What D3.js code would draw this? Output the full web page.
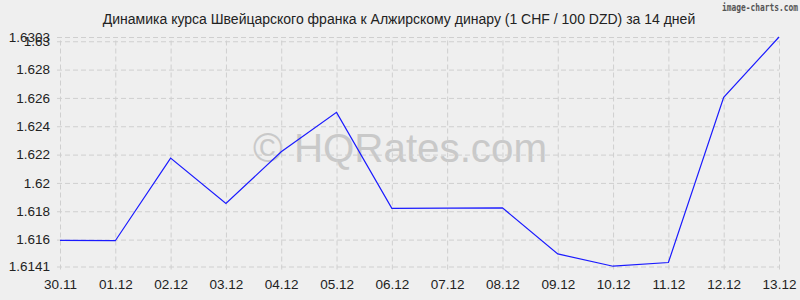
<!DOCTYPE html>
<html><head><meta charset="utf-8">
<script src="https://cdn.jsdelivr.net/npm/d3@7"></script>
<style>body{margin:0;background:#efefef;}svg{display:block;}</style>
</head><body><svg id="c" width="800" height="300"></svg>
<script>
const dates = ["30.11","01.12","02.12","03.12","04.12","05.12","06.12","07.12","08.12","09.12","10.12","11.12","12.12","13.12"];
const values = [1.61594,1.61592,1.62175,1.61855,1.6222,1.62498,1.6182,1.61822,1.61824,1.61499,1.61412,1.61438,1.62604,1.6303];
const yTicks = [1.6141,1.616,1.618,1.62,1.622,1.624,1.626,1.628,1.63,1.6303];
const yMin = 1.6141, yMax = 1.6303;
const title = "Динамика курса Швейцарского франка к Алжирскому динару (1 CHF / 100 DZD) за 14 дней";

const svg = d3.select("#c");
const L = 60, R = 779, T = 37, B = 266.5;
svg.append("rect").attr("width",800).attr("height",300).attr("fill","#efefef");
const x = d3.scalePoint().domain(dates).range([L,R]);
const y = d3.scaleLinear().domain([yMin,yMax]).range([B,T]);

// watermark
svg.append("text").attr("x",400).attr("y",162).attr("text-anchor","middle")
  .attr("font-family","Liberation Sans, Arial, sans-serif").attr("font-size",40)
  .attr("fill","#c9c9c9").attr("textLength",294).attr("lengthAdjust","spacingAndGlyphs")
  .text("© HQRates.com");

// grid
const gx = svg.append("g").attr("transform",`translate(0,${B})`)
  .call(d3.axisBottom(x).tickSize(-(B-T)-0).tickSizeOuter(0).tickPadding(10));
gx.select(".domain").remove();
gx.selectAll(".tick line").attr("stroke","#cfcfcf").attr("stroke-dasharray","5,3").attr("y2",-(B-T)).attr("y1",3);
gx.selectAll(".tick text").attr("font-family","Liberation Sans, Arial, sans-serif").attr("font-size",13.5).attr("fill","#222").attr("dy","0.9em");

const gy = svg.append("g").attr("transform",`translate(${L},0)`)
  .call(d3.axisLeft(y).tickValues(yTicks).tickFormat(d=>String(+d.toFixed(4))).tickSize(-(R-L)).tickSizeOuter(0).tickPadding(10));
gy.select(".domain").remove();
gy.selectAll(".tick line").attr("stroke","#cfcfcf").attr("stroke-dasharray","5,3").attr("x1",-3);
gy.selectAll(".tick text").attr("font-family","Liberation Sans, Arial, sans-serif").attr("font-size",13.5).attr("fill","#222");

// line
svg.append("path").datum(values.map((v,i)=>[dates[i],v]))
  .attr("fill","none").attr("stroke","#1a1aff").attr("stroke-width",1.2)
  .attr("d",d3.line().x(d=>x(d[0])).y(d=>y(d[1])));

// title
svg.append("text").attr("x",399).attr("y",24).attr("text-anchor","middle")
  .attr("font-family","Liberation Sans, Arial, sans-serif").attr("font-size",14)
  .attr("fill","#222").text(title);

svg.append("text").attr("x",722).attr("y",11)
  .attr("font-family","DejaVu Sans Mono, monospace").attr("font-size",11).attr("font-weight","bold")
  .attr("fill","#555").attr("textLength",76).attr("lengthAdjust","spacingAndGlyphs")
  .text("image-charts.com");
</script></body></html>
